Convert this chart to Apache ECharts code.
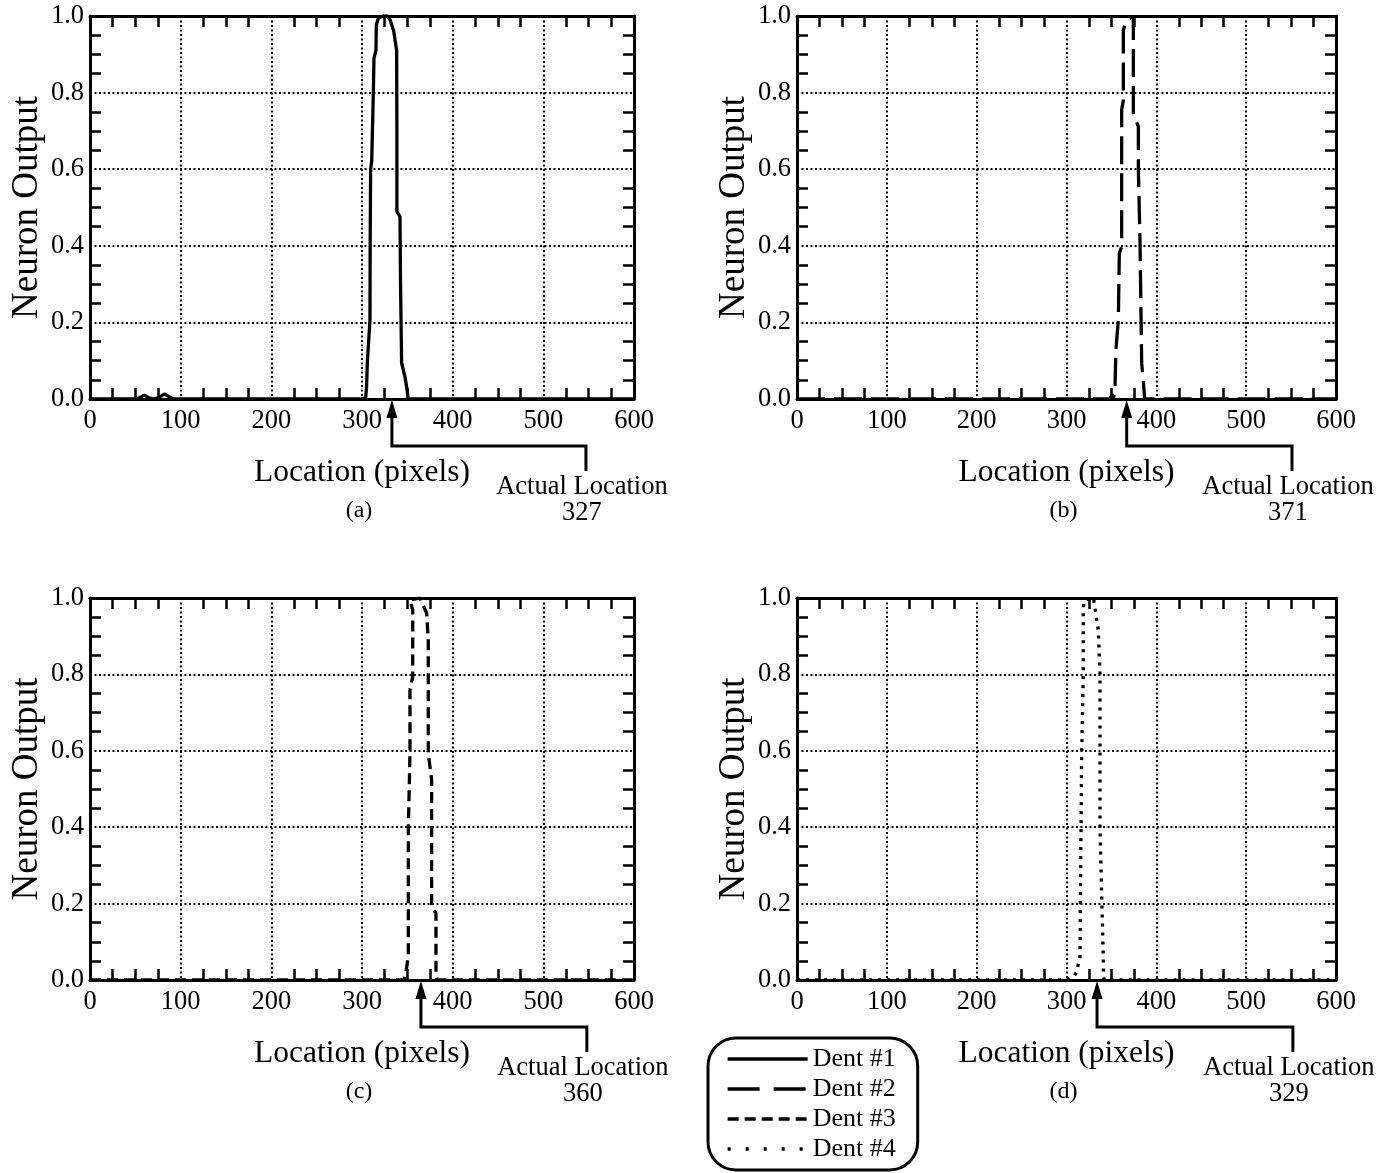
<!DOCTYPE html>
<html>
<head>
<meta charset="utf-8">
<script src="https://cdn.jsdelivr.net/npm/echarts@6/dist/echarts.min.js"></script>
<style>
html,body{margin:0;padding:0;background:#fff;}
#chart{width:1384px;height:1173px;}
</style>
</head>
<body>
<div id="chart"></div>
<script>
// ---- Data ----
const seriesNames = ['Dent #1', 'Dent #2', 'Dent #3', 'Dent #4'];
const panelLetters = ['(a)', '(b)', '(c)', '(d)'];
const actualLocations = [327, 371, 360, 329];
// x position (data units) where the arrow appears in the picture
const arrowX = [333, 367, 365, 334];
const calloutX = [547, 551, 548, 552];
const xTickValues = [0, 100, 200, 300, 400, 500, 600];
const yTickValues = [0.0, 0.2, 0.4, 0.6, 0.8, 1.0];

const dent1 = [[0,0],[50,0],[55,0.004],[60,0.01],[65,0.003],[70,0],[76,0.004],[82,0.013],[87,0.006],[92,0],
  [300,0],[304,0.003],[305,0.03],[306,0.1],[308.8,0.206],[309,0.4],[309.5,0.6],[310.7,0.62],[312.5,0.8],
  [313.2,0.89],[315.4,0.91],[315.8,0.976],[318,0.995],[323.5,1.0],[328,1.0],[331,0.99],[335,0.96],
  [338.2,0.91],[338.5,0.7],[338.5,0.49],[341.9,0.476],[342.5,0.3],[343.7,0.094],[347.4,0.058],
  [349.3,0.03],[351,0],[600,0]];
const dent2 = [[0,0],[348,0],[351,0.012],[352.5,0.004],[354,0.032],[355,0.128],[357.7,0.206],[358.8,0.38],
  [361.4,0.398],[361.4,0.598],[361.4,0.755],[363.3,0.78],[363.3,0.963],[366,0.985],[370.7,0.994],
  [372.5,1.0],[374.4,0.994],[374.4,0.746],[380,0.711],[380,0.598],[381.8,0.415],[383.7,0.093],
  [386.3,0.023],[387,0],[600,0]];
const dent3 = [[0,0],[346,0],[348,0.01],[349.3,0.034],[351.1,0.061],[351.1,0.393],[352.9,0.593],
  [352.9,0.759],[355.9,0.794],[355.9,0.969],[352.9,0.995],[354,1.0],[364,1.0],[365.8,0.995],
  [371.3,0.96],[373.1,0.89],[373.1,0.593],[376.8,0.524],[376.8,0.192],[381.6,0.175],[381.6,0.018],
  [383,0],[600,0]];
const dent4 = [[0,0],[300,0],[305,0.006],[309,0.012],[311.3,0.022],[315,0.061],[316.9,0.593],
  [318.7,0.803],[318.7,0.977],[320.6,0.995],[322,1.0],[330,1.0],[331.7,0.995],[335.4,0.916],
  [337.3,0.803],[337.3,0.393],[341,0.052],[341,0.01],[342,0],[600,0]];
const dentData = [dent1, dent2, dent3, dent4];
const dashTypes = ['solid', [28, 9], [11, 6], [3, 6]];
const legendDashTypes = ['solid', [32, 14], [11, 6], [3, 15]];

// ---- Build options ----
const FONT = '"Liberation Serif", "Times New Roman", serif';
const grids = [
  {left: 90, top: 16, width: 544, height: 383},
  {left: 797, top: 16, width: 539, height: 383},
  {left: 90, top: 598, width: 544, height: 382},
  {left: 797, top: 598, width: 539, height: 382}
];
const axisLineStyle = {color: '#000', width: 3};
const gridLineStyle = {color: '#000', width: 2, type: [2, 2.5]};
const minorTickStyle = {color: '#000', width: 2.5};

const xAxes = [], yAxes = [], series = [];
grids.forEach((g, i) => {
  xAxes.push({
    type: 'value', gridIndex: i, position: 'bottom', min: 0, max: 600, interval: 100,
    name: 'Location (pixels)', nameLocation: 'middle', nameGap: 58,
    nameTextStyle: {fontFamily: FONT, fontSize: 31.5, color: '#000'},
    axisLine: {show: true, onZero: false, lineStyle: axisLineStyle},
    axisTick: {show: false, inside: true},
    minorTick: {show: true, splitNumber: 4, length: 11, lineStyle: minorTickStyle},
    axisLabel: {fontFamily: FONT, fontSize: 26.5, color: '#000', margin: 9,
      formatter: v => xTickValues.includes(v) ? String(v) : ''},
    splitLine: {show: true, lineStyle: gridLineStyle}
  });
  xAxes.push({
    type: 'value', gridIndex: i, position: 'top', min: 0, max: 600, interval: 100,
    axisLine: {show: true, onZero: false, lineStyle: axisLineStyle},
    axisTick: {show: false, inside: true},
    minorTick: {show: true, splitNumber: 4, length: 11, lineStyle: minorTickStyle},
    axisLabel: {show: false}, splitLine: {show: false}
  });
  yAxes.push({
    type: 'value', gridIndex: i, position: 'left', min: 0, max: 1, interval: 0.2,
    name: 'Neuron Output', nameLocation: 'middle', nameGap: 44,
    nameTextStyle: {fontFamily: FONT, fontSize: 37, color: '#000'},
    axisLine: {show: true, onZero: false, lineStyle: axisLineStyle},
    axisTick: {show: false, inside: true},
    minorTick: {show: true, splitNumber: 4, length: 11, lineStyle: minorTickStyle},
    axisLabel: {fontFamily: FONT, fontSize: 26.5, color: '#000', margin: 6,
      formatter: v => v.toFixed(1)},
    splitLine: {show: true, lineStyle: gridLineStyle}
  });
  yAxes.push({
    type: 'value', gridIndex: i, position: 'right', min: 0, max: 1, interval: 0.2,
    axisLine: {show: true, onZero: false, lineStyle: axisLineStyle},
    axisTick: {show: false, inside: true},
    minorTick: {show: true, splitNumber: 4, length: 11, lineStyle: minorTickStyle},
    axisLabel: {show: false}, splitLine: {show: false}
  });
  series.push({
    name: seriesNames[i], type: 'line', xAxisIndex: 2 * i, yAxisIndex: 2 * i,
    data: dentData[i], symbol: 'none', animation: false, z: 5,
    lineStyle: {color: '#000', width: 3.3, type: dashTypes[i]},
    itemStyle: {color: '#000'}
  });
});

const chart = echarts.init(document.getElementById('chart'), null, {renderer: 'canvas'});
chart.setOption({
  backgroundColor: '#fff',
  animation: false,
  grid: grids,
  xAxis: xAxes,
  yAxis: yAxes,
  series: series,
  legend: {
    data: seriesNames.map((n, i) => ({name: n, lineStyle: {type: legendDashTypes[i], width: 3.3, color: '#000'}})),
    orient: 'vertical', left: 708, top: 1038,
    itemWidth: 80, itemHeight: 20, itemGap: 4,
    padding: [8, 22, 8, 18],
    borderColor: '#000', borderWidth: 3, borderRadius: 28,
    itemStyle: {opacity: 0},
    textStyle: {fontFamily: FONT, fontSize: 26, color: '#000'},
    inactiveColor: '#000', selectedMode: false
  }
});

// ---- Annotations (arrows, callouts, panel letters) ----
const graphics = [];
grids.forEach((g, i) => {
  const tip = chart.convertToPixel({xAxisIndex: 2 * i, yAxisIndex: 2 * i}, [arrowX[i], 0]);
  const right = chart.convertToPixel({xAxisIndex: 2 * i, yAxisIndex: 2 * i}, [calloutX[i], 0]);
  const x0 = tip[0], y0 = tip[1], xr = right[0];
  graphics.push({
    type: 'polyline', shape: {points: [[x0, y0 + 14], [x0, y0 + 47], [xr, y0 + 47], [xr, y0 + 72]]},
    style: {stroke: '#000', lineWidth: 3, fill: null}, z: 10
  });
  graphics.push({
    type: 'polygon', shape: {points: [[x0, y0 + 1], [x0 - 5.5, y0 + 19], [x0 + 5.5, y0 + 19]]},
    style: {fill: '#000'}, z: 10
  });
  graphics.push({
    type: 'text', x: xr - 4, y: y0 + 88,
    style: {text: 'Actual Location', font: '26.5px ' + FONT, fill: '#000', textAlign: 'center', textVerticalAlign: 'middle'}, z: 10
  });
  graphics.push({
    type: 'text', x: xr - 4, y: y0 + 114,
    style: {text: String(actualLocations[i]), font: '26.5px ' + FONT, fill: '#000', textAlign: 'center', textVerticalAlign: 'middle'}, z: 10
  });
  graphics.push({
    type: 'text', x: g.left + g.width / 2 - 3, y: y0 + 112,
    style: {text: panelLetters[i], font: '24px ' + FONT, fill: '#000', textAlign: 'center', textVerticalAlign: 'middle'}, z: 10
  });
});
chart.setOption({graphic: graphics});
</script>
</body>
</html>
